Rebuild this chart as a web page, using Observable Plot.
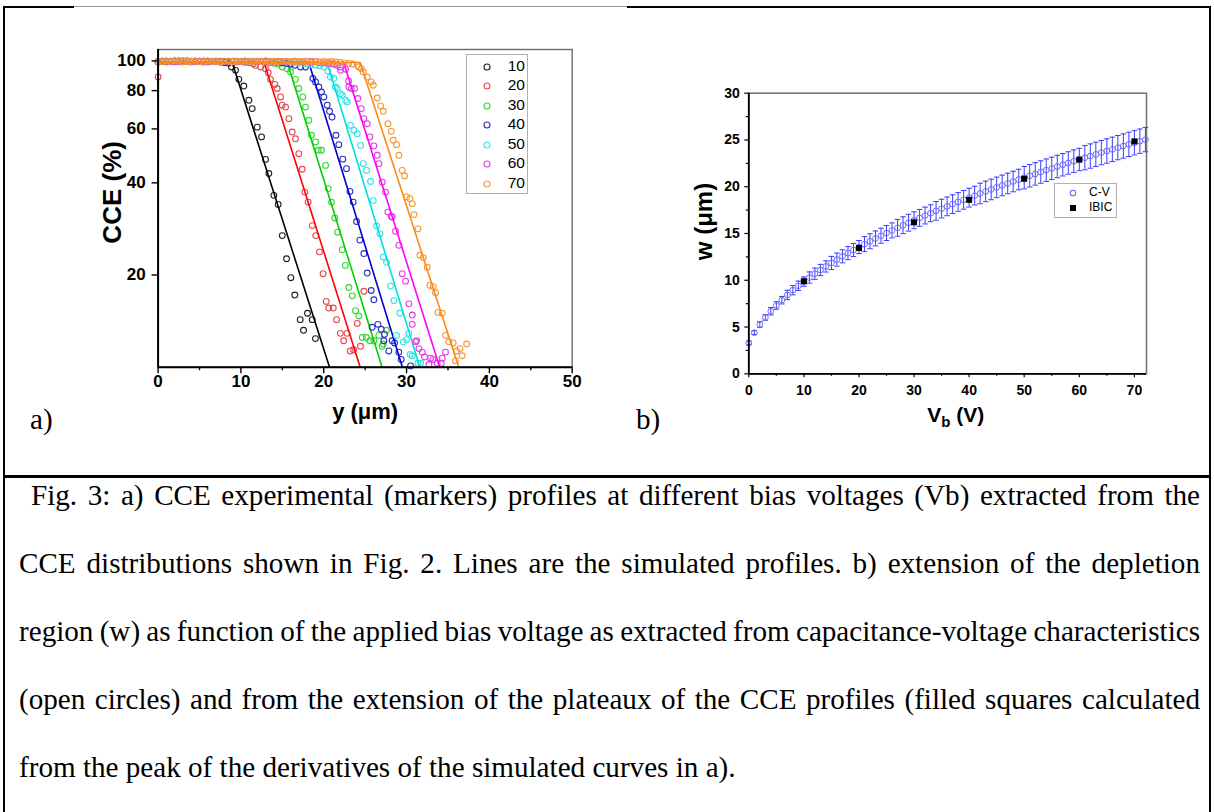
<!DOCTYPE html>
<html><head><meta charset="utf-8">
<script src="https://cdn.jsdelivr.net/npm/d3@7"></script>
<script src="https://cdn.jsdelivr.net/npm/@observablehq/plot@0.6"></script>
<style>
html,body{margin:0;padding:0;background:#fff;}
#fig{position:relative;width:1214px;height:812px;overflow:hidden;background:#fff;}
#fig svg{position:absolute;left:0;top:0;}
#fig svg text{font-weight:bold;}
.abs{position:absolute;}
.line{position:absolute;white-space:nowrap;font-family:"Liberation Serif","Times New Roman",serif;font-size:23px;line-height:1;color:#000;}
.lg{position:absolute;background:#fff;border:1px solid #b0b0b0;font-family:"Liberation Sans",Arial,sans-serif;color:#000;}
</style></head><body><div id="fig"></div>
<script>
// ---------------- Panel a data ----------------
const biasLabels = ["10", "20", "30", "40", "50", "60", "70"];
const seriesColors = ["#000000", "#ff0000", "#00d000", "#0000d0", "#00e0e0", "#ff00ff", "#ff8a10"];
const dotColors = ["#222222", "#e8474f", "#33d633", "#3030c8", "#33e5e5", "#e63ee6", "#f29a3a"];
// simulated profile: plateau level, knee position and position where CCE reaches 10 %
const plateauLevel = 98.8;
const kneeX = [8.95, 12.8, 15.6, 18.2, 20.4, 22.4, 24.4];
const endX = [20.7, 24.4, 27.05, 29.5, 31.6, 34.0, 36.3];

const plateauX = [0,0.5,1,1.5,2,2.5,3,3.5,4,4.5,5,5.5,6,6.5,7,7.5,8,8.5,9,9.5,10,10.5,11,11.5,12,12.5,13,13.5,14,14.5,15,15.5,16,16.5,17,17.5,18,18.5,19,19.5,20,20.5,21,21.5,22,22.5,23,23.5];
const plateau10 = [99.2,99.6,99.9,99.4,99.8,100.1,99.5,99.7,99.3,99.9,99.6,99.8,99.4,99.7,99.5,99.2,98.9,98.4];
const plateau20 = [88.7,99.8,99.3,99.7,100.0,99.6,99.4,99.9,99.7,99.5,99.8,99.3,99.6,99.9,99.5,99.7,99.4,99.8,99.6,99.3,99.5,99.0,98.6,98.0];
const plateau30 = [99.6,99.8,99.4,99.9,99.7,99.5,100.0,99.6,99.8,99.4,99.7,99.5,99.9,99.6,99.8,99.3,99.7,99.5,99.9,99.6,99.4,99.8,99.5,99.7,99.3,99.6,99.2,98.8,98.3,97.5];
const plateau40 = [99.7,99.5,99.9,99.6,99.8,99.4,99.7,100.0,99.5,99.8,99.6,99.9,99.4,99.7,99.5,99.8,99.6,99.3,99.7,99.9,99.5,99.8,99.4,99.6,99.7,99.5,99.8,99.3,99.6,99.1,98.7,98.2,97.6,96.8];
const plateau50 = [99.8,99.6,99.9,99.5,99.7,99.8,99.4,99.9,99.6,99.7,99.5,99.9,99.6,99.8,99.4,99.7,99.9,99.5,99.8,99.6,99.7,99.4,99.9,99.5,99.8,99.6,99.7,99.3,99.8,99.5,99.6,99.2,99.5,99.0,98.6,98.1,97.9,97.2,96.9,96.5];
const plateau60 = [99.5,99.9,99.6,99.8,99.4,99.7,100.0,99.5,99.8,99.6,99.9,99.4,99.7,99.5,99.8,99.6,99.9,99.3,99.7,99.5,99.8,99.6,99.4,99.9,99.5,99.7,99.8,99.4,99.6,99.9,99.5,99.7,99.3,99.8,99.6,99.4,99.7,99.2,99.5,98.9,98.6,98.2,97.9];
const plateau70 = [99.8,99.5,99.9,99.6,100.1,99.7,99.4,99.8,99.6,99.9,99.5,99.7,100.0,99.6,99.8,99.4,99.7,99.9,99.5,99.8,99.6,99.9,99.4,99.7,99.8,99.5,100.0,99.6,99.8,99.5,99.7,99.9,99.4,99.8,99.6,99.7,99.5,99.9,99.6,99.3,99.7,99.4,99.6,99.2,98.9,98.6,98.2,97.7];
const slope10 = [[8.86,95.6],[9.35,93.2],[9.75,87.1],[10.35,82.8],[10.96,74.4],[11.36,69.9],[11.97,60.8],[12.49,56.5],[12.97,47.7],[13.37,42.9],[13.98,36.4],[14.5,34.0],[14.99,26.9],[15.51,22.6],[16.03,19.6],[16.51,17.2],[17.16,14.3],[17.56,13.2],[18.04,15.0],[18.61,14.3],[19.0,12.4]];
const slope20 = [[11.76,96.8],[12.37,95.6],[12.97,94.4],[13.3,91.6],[13.57,87.1],[14.1,83.8],[14.38,81.3],[14.78,76.3],[14.98,71.7],[15.39,70.7],[15.79,64.8],[16.19,58.6],[16.59,55.7],[16.99,49.8],[17.4,44.3],[17.72,37.3],[18.12,34.6],[18.63,29.0],[19.03,26.9],[19.49,23.8],[19.92,20.2],[20.3,16.4],[20.6,15.6],[21.15,15.6],[21.55,14.3],[22.0,12.9],[22.8,12.9],[22.4,12.2],[23.2,11.3],[23.6,11.4],[24.05,13.9],[24.44,11.7],[24.85,17.7]];
const slope30 = [[14.99,95.6],[15.59,94.4],[15.99,92.0],[16.59,87.1],[16.99,81.3],[17.48,76.3],[17.8,70.7],[18.2,64.0],[18.52,57.2],[19.01,54.4],[19.33,51.1],[19.73,51.1],[20.22,45.6],[20.54,38.3],[20.94,34.6],[21.33,30.7],[21.68,27.6],[22.23,24.2],[22.6,21.5],[23.03,18.2],[23.44,17.1],[23.84,15.3],[24.24,14.7],[24.65,12.5],[25.15,12.5],[25.57,12.2],[26.05,12.2],[26.65,12.7],[27.06,11.7],[27.18,11.9],[27.58,13.2]];
const slope40 = [[17.2,95.6],[17.8,95.6],[18.69,87.6],[19.01,85.4],[19.41,82.2],[19.73,79.2],[20.01,76.3],[20.42,71.7],[20.7,68.5],[21.0,65.6],[21.47,57.2],[21.82,53.3],[22.3,47.8],[22.75,44.5],[23.16,37.5],[23.56,34.6],[23.96,29.9],[24.36,26.0],[24.85,23.5],[25.25,20.3],[25.73,17.8],[26.05,16.6],[25.85,13.5],[26.54,13.8],[26.94,13.3],[27.34,12.8],[27.26,12.2],[27.86,11.3],[28.26,12.2],[28.55,12.0],[29.06,11.2],[29.35,10.6],[30.48,10.1]];
const slope50 = [[20.0,95.6],[20.5,92.8],[20.8,88.6],[21.22,87.6],[21.4,82.2],[21.62,81.3],[22.0,78.2],[22.23,77.3],[22.63,74.4],[22.83,73.5],[23.24,61.6],[23.64,59.4],[24.04,57.9],[24.45,53.0],[24.77,46.2],[25.17,43.9],[25.65,40.4],[25.98,35.0],[26.38,28.9],[26.78,27.3],[27.18,22.9],[27.58,22.0],[28.07,18.4],[28.47,16.5],[29.19,15.0],[28.79,12.7],[29.6,12.1],[30.0,12.3],[30.28,12.9],[30.44,11.0],[30.69,10.9],[31.37,10.3],[31.7,10.3]];
const slope60 = [[21.3,97.5],[21.62,96.8],[22.02,95.6],[22.03,93.2],[22.63,94.0],[23.0,86.0],[23.03,82.2],[23.32,81.3],[23.72,81.3],[24.12,75.4],[24.53,69.9],[24.85,64.8],[25.25,62.4],[25.57,56.5],[26.05,52.8],[26.46,49.2],[26.66,46.2],[27.06,40.2],[27.46,37.3],[27.74,32.1],[28.15,31.1],[28.27,30.9],[28.67,27.8],[29.07,25.0],[29.48,20.2],[29.88,19.1],[30.28,16.1],[30.69,14.8],[30.69,13.8],[31.09,12.1],[31.21,12.2],[31.49,11.5],[31.9,11.2],[32.18,10.8],[32.7,10.2],[32.9,10.7],[33.18,10.6],[33.7,10.3],[34.19,10.3],[34.3,10.7],[34.7,11.2]];
const slope70 = [[24.04,96.8],[24.24,95.6],[24.53,94.4],[24.77,92.0],[25.25,88.6],[25.73,85.4],[25.98,83.3],[26.46,75.7],[26.86,71.3],[27.18,68.5],[27.75,62.4],[28.15,58.9],[28.39,55.1],[28.79,53.3],[29.07,49.2],[29.48,43.9],[29.76,42.1],[30.0,36.0],[30.4,35.5],[30.69,34.2],[30.89,31.5],[31.37,28.3],[31.61,23.2],[32.02,22.8],[32.5,21.2],[32.82,18.5],[33.22,18.3],[33.5,17.5],[33.79,15.1],[34.3,15.0],[34.71,12.7],[35.11,12.1],[35.63,12.0],[35.9,10.5],[36.04,11.3],[36.44,11.5],[36.7,10.9],[37.25,11.9]];
const xTicksA = [0, 10, 20, 30, 40, 50];
const xMinorA = [5, 15, 25, 35, 45];
const yTicksA = [20, 40, 60, 80, 100];

// ---------------- Panel b data ----------------
const cvV = [0,1,2,3,4,5,6,7,8,9,10,11,12,13,14,15,16,17,18,19,20,21,22,23,24,25,26,27,28,29,30,31,32,33,34,35,36,37,38,39,40,41,42,43,44,45,46,47,48,49,50,51,52,53,54,55,56,57,58,59,60,61,62,63,64,65,66,67,68,69,70,71,72];
const cvW = [3.3,4.4,5.27,6.02,6.69,7.3,7.87,8.43,8.94,9.41,9.86,10.29,10.7,11.1,11.48,11.85,12.21,12.56,12.9,13.23,13.55,13.86,14.17,14.47,14.76,15.05,15.33,15.61,15.88,16.15,16.41,16.67,16.92,17.17,17.42,17.66,17.9,18.14,18.37,18.6,18.83,19.05,19.28,19.5,19.71,19.93,20.14,20.35,20.56,20.77,20.97,21.17,21.37,21.57,21.77,21.96,22.16,22.35,22.54,22.73,22.91,23.1,23.28,23.46,23.65,23.82,24.0,24.18,24.35,24.53,24.7,24.87,25.04];
const cvErr = [0.2,0.2,0.3,0.3,0.4,0.4,0.4,0.5,0.5,0.5,0.5,0.6,0.6,0.6,0.6,0.7,0.7,0.7,0.7,0.7,0.7,0.8,0.8,0.8,0.8,0.8,0.8,0.9,0.9,0.9,0.9,0.9,0.9,0.9,1.0,1.0,1.0,1.0,1.0,1.0,1.0,1.0,1.1,1.1,1.1,1.1,1.1,1.1,1.1,1.1,1.2,1.2,1.2,1.2,1.2,1.2,1.2,1.2,1.2,1.2,1.2,1.3,1.3,1.3,1.3,1.3,1.3,1.3,1.3,1.3,1.3,1.3,1.3];
const ibicV = [10, 20, 30, 40, 50, 60, 70];
const ibicW = [9.9, 13.45, 16.2, 18.6, 20.85, 22.9, 24.85];
const xTicksB = [0, 10, 20, 30, 40, 50, 60, 70];
const xMinorB = [5, 15, 25, 35, 45, 55, 65];
const yTicksB = [0, 5, 10, 15, 20, 25, 30];
const yMinorB = [2.5, 7.5, 12.5, 17.5, 22.5, 27.5];

const captionLines = [
  "Fig. 3: a) CCE experimental (markers) profiles at different bias voltages (Vb) extracted from the",
  "CCE distributions shown in Fig. 2. Lines are the simulated profiles. b) extension of the depletion",
  "region (w) as function of the applied bias voltage as extracted from capacitance-voltage characteristics",
  "(open circles) and from the extension of the plateaux of the CCE profiles (filled squares calculated",
  "from the peak of the derivatives of the simulated curves in a)."
];

// ---------------- build tables ----------------
const plateaus = [plateau10, plateau20, plateau30, plateau40, plateau50, plateau60, plateau70];
const slopes = [slope10, slope20, slope30, slope40, slope50, slope60, slope70];
const FONT = "'Liberation Sans', Arial, sans-serif";
const fig = document.getElementById("fig");

const marksA = [];
biasLabels.forEach((lab, i) => {
  const pts = plateaus[i].map((v, j) => ({x: plateauX[j], y: v}))
    .concat(slopes[i].map(([x, y]) => ({x, y})));
  const sim = [{x: 0, y: plateauLevel}, {x: kneeX[i], y: plateauLevel}, {x: endX[i], y: 10}];
  marksA.push(Plot.dot(pts, {x: "x", y: "y", r: 2.9, stroke: dotColors[i], strokeWidth: 1.1, fill: "none"}));
  marksA.push(Plot.line(sim, {x: "x", y: "y", stroke: seriesColors[i], strokeWidth: 1.6}));
});

const plotA = Plot.plot({
  width: 600, height: 430,
  marginLeft: 157.6, marginRight: 28.3, marginTop: 49, marginBottom: 63.3,
  x: {domain: [0, 50]},
  y: {type: "log", domain: [10, 109]},
  style: {fontFamily: FONT, background: "transparent", overflow: "visible", color: "#000"},
  marks: [
    Plot.frame({stroke: "#6a6a6a", strokeWidth: 1.4}),
    ...marksA,
    Plot.ruleX([0], {stroke: "#000", strokeWidth: 2}),
    Plot.ruleY([10], {stroke: "#000", strokeWidth: 2}),
    Plot.axisX({ticks: xTicksA, tickSize: 6.5, tickPadding: 1, fontSize: 17, fontWeight: "bold", label: null, strokeWidth: 1.4, tickFormat: d => String(d)}),
    Plot.axisX({ticks: xMinorA, tickSize: 3.5, tickFormat: () => "", label: null, strokeWidth: 1.4}),
    Plot.axisY({ticks: yTicksA, tickSize: 6, tickPadding: 6.5, fontSize: 17, fontWeight: "bold", label: null, strokeWidth: 1.4, tickFormat: d => String(d)}),
    Plot.text(["CCE (%)"], {text: d => d, frameAnchor: "left", textAnchor: "middle", lineAnchor: "middle", dx: -45.6, dy: -16, rotate: -90, fontSize: 26, fontWeight: "bold"}),
    Plot.text(["y (μm)"], {text: d => d, frameAnchor: "bottom", textAnchor: "middle", lineAnchor: "middle", dy: 45, fontSize: 22, fontWeight: "bold"})
  ]
});
fig.appendChild(plotA);

// cap symbol for error bars
const capSymbol = {draw(context, size) { const h = Math.sqrt(size / Math.PI); context.moveTo(-h, 0); context.lineTo(h, 0); }};
const cv = cvV.map((v, i) => ({V: v, w: cvW[i], e: cvErr[i]}));
const ibic = ibicV.map((v, i) => ({V: v, w: ibicW[i]}));

const plotB = Plot.plot({
  width: 560, height: 430,
  marginLeft: 128.3, marginRight: 34, marginTop: 92.7, marginBottom: 56.7,
  x: {domain: [0, 72.2]},
  y: {domain: [0, 30]},
  style: {fontFamily: FONT, background: "transparent", overflow: "visible", color: "#000"},
  marks: [
    Plot.frame({stroke: "#777", strokeWidth: 1.6}),
    Plot.ruleX(cv, {x: "V", y1: d => d.w - d.e, y2: d => d.w + d.e, stroke: "#3b3bff", strokeWidth: 1}),
    Plot.dot(cv, {x: "V", y: d => d.w + d.e, symbol: capSymbol, r: 2.8, stroke: "#3b3bff", strokeWidth: 1, fill: "none"}),
    Plot.dot(cv, {x: "V", y: d => d.w - d.e, symbol: capSymbol, r: 2.8, stroke: "#3b3bff", strokeWidth: 1, fill: "none"}),
    Plot.dot(cv, {x: "V", y: "w", r: 2.9, stroke: "#6b6bff", strokeWidth: 1, fill: "none"}),
    Plot.dot(ibic, {x: "V", y: "w", symbol: "square", r: 3.4, fill: "#000", stroke: "none"}),
    Plot.ruleX([0], {stroke: "#000", strokeWidth: 1.8}),
    Plot.ruleY([0], {stroke: "#000", strokeWidth: 1.8}),
    Plot.axisX({ticks: xTicksB, tickSize: 4, tickPadding: 7, fontSize: 14, fontWeight: "bold", label: null, strokeWidth: 1.2, tickFormat: d => String(d)}),
    Plot.axisX({ticks: xMinorB, tickSize: 2.5, tickFormat: () => "", label: null, strokeWidth: 1.2}),
    Plot.axisY({ticks: yTicksB, tickSize: 4, tickPadding: 5, fontSize: 14, fontWeight: "bold", label: null, strokeWidth: 1.2, tickFormat: d => String(d)}),
    Plot.axisY({ticks: yMinorB, tickSize: 2.5, tickFormat: () => "", label: null, strokeWidth: 1.2}),
    Plot.text(["w (μm)"], {text: d => d, frameAnchor: "left", textAnchor: "middle", lineAnchor: "middle", dx: -44.3, dy: -12, rotate: -90, fontSize: 24, fontWeight: "bold"}),
    Plot.text(["Vb (V)"], {text: d => d, frameAnchor: "bottom", textAnchor: "middle", lineAnchor: "middle", dx: 8, dy: 41, fontSize: 21, fontWeight: "bold"})
  ]
});
plotB.style.left = "620px";
fig.appendChild(plotB);
// subscript b in the x-axis title of panel b
d3.select(plotB).selectAll("text").filter(function() { return this.textContent === "Vb (V)"; })
  .each(function() {
    const t = d3.select(this);
    t.text(null);
    t.append("tspan").text("V");
    t.append("tspan").attr("font-size", 15).attr("dy", 5).text("b");
    t.append("tspan").attr("dy", -5).text(" (V)");
  });

// ---------------- legends ----------------
function legend(left, top, width, height, entries, fontSize, rowH, firstY, markX, textX) {
  const box = document.createElement("div");
  box.className = "lg";
  Object.assign(box.style, {left: left + "px", top: top + "px", width: width + "px", height: height + "px", fontSize: fontSize + "px"});
  entries.forEach((en, k) => {
    const cy = firstY + k * rowH;
    const s = document.createElementNS("http://www.w3.org/2000/svg", "svg");
    s.setAttribute("width", 12); s.setAttribute("height", 12);
    s.style.position = "absolute"; s.style.left = (markX - 6) + "px"; s.style.top = (cy - 6) + "px";
    s.innerHTML = en.square
      ? `<rect x="3" y="3" width="6" height="6" fill="#000"/>`
      : `<circle cx="6" cy="6" r="${en.r || 3}" fill="none" stroke="${en.color}" stroke-width="1.1"/>`;
    box.appendChild(s);
    const t = document.createElement("div");
    t.className = "abs";
    Object.assign(t.style, {left: textX + "px", top: (cy - fontSize * 0.58) + "px", lineHeight: fontSize + "px", whiteSpace: "nowrap"});
    t.textContent = en.label;
    box.appendChild(t);
  });
  fig.appendChild(box);
}
legend(465.7, 54.3, 60.5, 138, biasLabels.map((l, i) => ({label: l, color: dotColors[i]})), 15.5, 19.5, 11.4, 20, 41);
legend(1054, 183.3, 60.7, 32.7, [{label: "C-V", color: "#6b6bff", r: 2.8}, {label: "IBIC", square: true}], 12, 15, 9, 17.5, 34);

// ---------------- frame lines, panel letters, caption ----------------
function rect(l, t, w, h, c) {
  const d = document.createElement("div");
  d.className = "abs";
  Object.assign(d.style, {left: l + "px", top: t + "px", width: w + "px", height: h + "px", background: c});
  fig.appendChild(d);
}
rect(3, 6, 2, 806, "#000");
rect(1209, 6, 2, 806, "#000");
rect(3, 6, 71, 2, "#000");
rect(74, 6, 553, 1, "#9a9a9a");
rect(627, 6, 584, 2, "#000");
rect(3, 474.5, 1208, 3, "#000");

// caption font size: the tightest line (3rd) fills the text width
const probe = document.createElement("div");
probe.className = "line";
probe.style.fontSize = "23px";
probe.textContent = captionLines[2];
fig.appendChild(probe);
const probeW = probe.getBoundingClientRect().width;
fig.removeChild(probe);
const capFont = 23 * (1181 + 14) / probeW;

function label(txt, l, cy) {
  const d = document.createElement("div");
  d.className = "line";
  d.style.fontSize = capFont + "px";
  d.style.left = l + "px"; d.style.top = (cy - capFont * 0.55) + "px";
  d.textContent = txt;
  fig.appendChild(d);
}
label("a)", 30, 421);
label("b)", 636, 421);

const lineCenters = [497, 565, 633, 701, 769];
captionLines.forEach((txt, i) => {
  const d = document.createElement("div");
  d.className = "line";
  d.style.fontSize = capFont + "px";
  const left = i === 0 ? 31 : 19;
  d.style.left = left + "px";
  d.style.top = (lineCenters[i] - capFont * 0.55) + "px";
  d.textContent = txt;
  fig.appendChild(d);
  if (i < captionLines.length - 1) {
    const target = 1200 - left;
    const w = d.getBoundingClientRect().width;
    const spaces = (txt.match(/ /g) || []).length;
    d.style.wordSpacing = ((target - w) / spaces) + "px";
  }
});
</script></body></html>
